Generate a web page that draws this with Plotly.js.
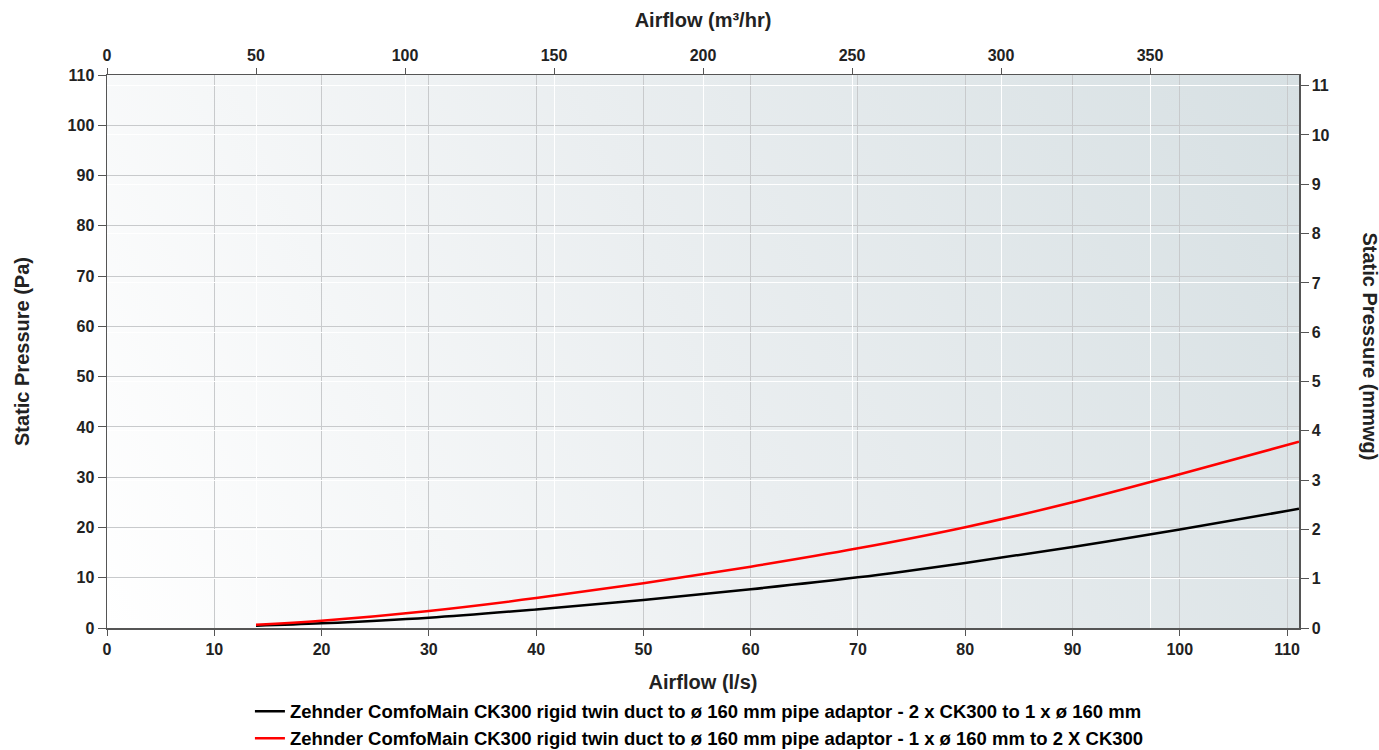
<!DOCTYPE html>
<html>
<head>
<meta charset="utf-8">
<script src="https://cdn.plot.ly/plotly-3.0.1.min.js"></script>
<style>html,body{margin:0;padding:0;background:#fff;} #chart{width:1379px;height:750px;}</style>
</head>
<body>
<div id="chart"></div>
<script>
// Airflow in l/s
const airflowLs = [13.89, 20, 30, 40, 50, 60, 70, 80, 90, 100, 111.11];
// Static pressure (Pa) — 2 x CK300 to 1 x ø 160 mm
const pressureBlack = [0.45, 0.93, 2.05, 3.7, 5.57, 7.7, 10.08, 12.95, 16.1, 19.6, 23.7];
// Static pressure (Pa) — 1 x ø 160 mm to 2 X CK300
const pressureRed = [0.65, 1.45, 3.4, 5.95, 8.9, 12.2, 15.85, 20.05, 25.0, 30.6, 37.05];
const seriesNames = [
  "Zehnder ComfoMain CK300 rigid twin duct to ø 160 mm pipe adaptor - 2 x CK300 to 1 x ø 160 mm",
  "Zehnder ComfoMain CK300 rigid twin duct to ø 160 mm pipe adaptor - 1 x ø 160 mm to 2 X CK300"
];
const bottomTicks = [0, 10, 20, 30, 40, 50, 60, 70, 80, 90, 100, 110];
const topTicks = [0, 50, 100, 150, 200, 250, 300, 350];
const leftTicks = [0, 10, 20, 30, 40, 50, 60, 70, 80, 90, 100, 110];
const rightTicks = [0, 1, 2, 3, 4, 5, 6, 7, 8, 9, 10, 11];

const LS_MAX = 400 / 3.6;        // 400 m3/hr
const PA_MAX = 110;
const MMWG_MAX = PA_MAX / 9.80665;

// background gradient image
const cv = document.createElement('canvas');
cv.width = 1192; cv.height = 553;
const ctx = cv.getContext('2d');
const g = ctx.createLinearGradient(0, 553, 1192, 0);
g.addColorStop(0, '#ffffff');
g.addColorStop(0.5, '#eaeef0');
g.addColorStop(1, '#d7e0e3');
ctx.fillStyle = g; ctx.fillRect(0, 0, 1192, 553);
const bgUrl = cv.toDataURL('image/png');

const F = 'Liberation Sans, Arial, sans-serif';
const tickFont = {family: F, size: 16, color: '#222', weight: 'bold'};
const titleFont = {family: F, size: 20, color: '#222', weight: 'bold'};

const traces = [
  {x: airflowLs, y: pressureBlack, name: seriesNames[0], mode: 'lines',
   line: {color: '#000000', width: 2.5, shape: 'spline'}, xaxis: 'x', yaxis: 'y'},
  {x: airflowLs, y: pressureRed, name: seriesNames[1], mode: 'lines',
   line: {color: '#ff0000', width: 2.5, shape: 'spline'}, xaxis: 'x', yaxis: 'y'},
  // invisible helper traces to activate secondary axes
  {x: [0], y: [0], xaxis: 'x2', yaxis: 'y', mode: 'markers', marker: {opacity: 0}, showlegend: false, hoverinfo: 'skip'},
  {x: [0], y: [0], xaxis: 'x', yaxis: 'y2', mode: 'markers', marker: {opacity: 0}, showlegend: false, hoverinfo: 'skip'}
];

const layout = {
  width: 1379, height: 750,
  margin: {l: 107, r: 80, t: 75, b: 122, autoexpand: false},
  paper_bgcolor: '#ffffff',
  plot_bgcolor: 'rgba(0,0,0,0)',
  showlegend: true,
  legend: {orientation: 'v', x: 0.497, xanchor: 'center', y: -0.117, yanchor: 'top',
           font: {family: F, size: 18.5, color: '#000', weight: 'bold'},
           bgcolor: 'rgba(0,0,0,0)', tracegroupgap: 0},
  images: [{source: bgUrl, xref: 'paper', yref: 'paper', x: 0, y: 1, sizex: 1, sizey: 1,
            sizing: 'stretch', layer: 'below', xanchor: 'left', yanchor: 'top'}],
  xaxis: {range: [0, LS_MAX], tickvals: bottomTicks,
          showgrid: true, gridcolor: '#c8cacc', gridwidth: 1, zeroline: false,
          showline: true, linecolor: '#555', linewidth: 1.5,
          ticks: 'outside', ticklen: 6, tickcolor: '#555', tickfont: tickFont,
          title: {text: 'Airflow (l/s)', font: titleFont, standoff: 18}},
  xaxis2: {overlaying: 'x', side: 'top', range: [0, 400], tickvals: topTicks,
           showgrid: true, gridcolor: '#ffffff', gridwidth: 1, zeroline: false,
           showline: true, linecolor: '#555', linewidth: 1.5,
           ticks: 'outside', ticklen: 6, tickcolor: '#555', tickfont: tickFont,
           title: {text: 'Airflow (m³/hr)', font: titleFont, standoff: 14}},
  yaxis: {range: [0, PA_MAX], tickvals: leftTicks,
          showgrid: true, gridcolor: '#c8cacc', gridwidth: 1, zeroline: false,
          showline: true, linecolor: '#555', linewidth: 1.5,
          ticks: 'outside', ticklen: 8, tickcolor: '#555', tickfont: tickFont,
          title: {text: 'Static Pressure (Pa)', font: titleFont, standoff: 32}},
  yaxis2: {overlaying: 'y', side: 'right', range: [0, MMWG_MAX], tickvals: rightTicks,
           showgrid: true, gridcolor: '#ffffff', gridwidth: 1, zeroline: false,
           showline: true, linecolor: '#555', linewidth: 1.5,
           ticks: 'outside', ticklen: 8, tickcolor: '#555', tickfont: tickFont},
  annotations: [{text: 'Static Pressure (mmwg)', xref: 'paper', yref: 'paper',
                 x: 1, xshift: 71, y: 0.5, yshift: 5, textangle: 90, showarrow: false,
                 font: titleFont, xanchor: 'center', yanchor: 'middle'}]
};

Plotly.newPlot('chart', traces, layout, {displayModeBar: false, staticPlot: true});
</script>
</body>
</html>
